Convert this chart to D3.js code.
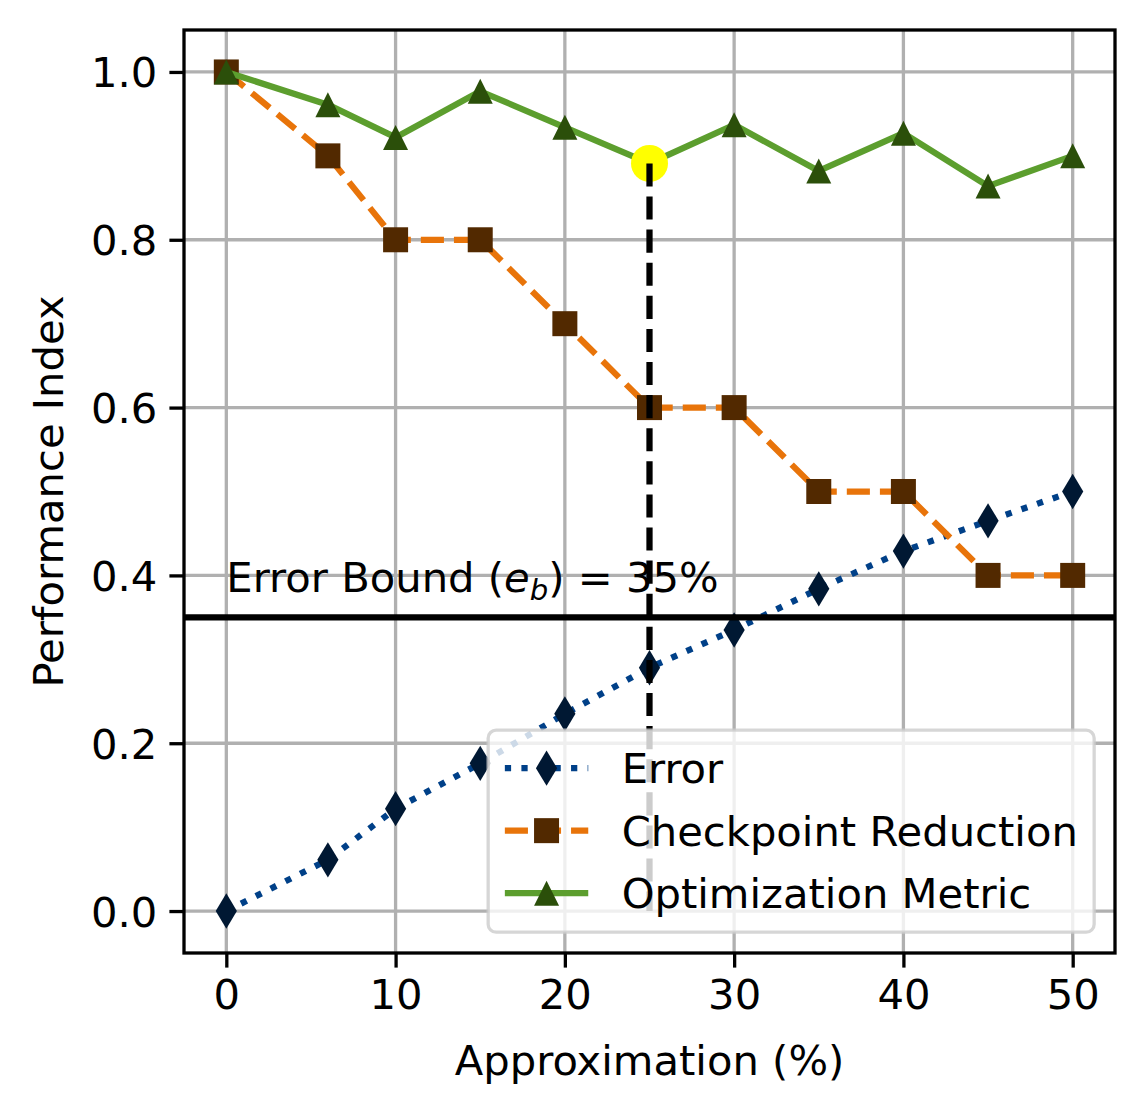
<!DOCTYPE html>
<html>
<head>
    <title></title>
    <meta charset="utf-8">
    <style>
        body { margin: 0; background: #fff; }
        text { font-family: 'DejaVu Sans'; }
    </style>
</head>
<body>
<script src="https://d3js.org/d3.v7.min.js"></script>
<script>
    // data
    var approx = [0, 6, 10, 15, 20, 25, 30, 35, 40, 45, 50];
    var errorVals = [0.0, 0.061, 0.122, 0.176, 0.235, 0.29, 0.335, 0.384, 0.429, 0.465, 0.5];
    var checkpointVals = [1.0, 0.9, 0.8, 0.8, 0.7, 0.6, 0.6, 0.5, 0.5, 0.4, 0.4];
    var optimVals = [1.0, 0.961, 0.922, 0.977, 0.934, 0.891, 0.937, 0.882, 0.927, 0.864, 0.9];
    var xTicks = [0, 10, 20, 30, 40, 50];
    var yTicks = [0.0, 0.2, 0.4, 0.6, 0.8, 1.0];
    var errorBound = 0.35;
    var chosenIdx = 5;

    var W = 1144, H = 1113;
    var m = {left: 184, right: 1115, top: 30, bottom: 953};
    var fs = 41.7; // 10pt at 300dpi
    var lw = 6.25;

    var svg = d3.select('body').append('svg')
        .attr('width', W)
        .attr('height', H);

    var x = d3.scaleLinear().domain([-2.5, 52.5]).range([m.left, m.right]);
    var y = d3.scaleLinear().domain([-0.05, 1.05]).range([m.bottom, m.top]);

    var series = [
        {name: 'Error', vals: errorVals, line: '#004088', mark: '#001833', dash: '6.25,10.3', shape: 'thin'},
        {name: 'Checkpoint Reduction', vals: checkpointVals, line: '#e8740a', mark: '#522900', dash: '23.1,10', shape: 'square'},
        {name: 'Optimization Metric', vals: optimVals, line: '#5c9e2e', mark: '#2b4f0a', dash: null, shape: 'tri'}
    ];

    var clip = svg.append('defs').append('clipPath').attr('id', 'plot')
        .append('rect')
        .attr('x', m.left).attr('y', m.top)
        .attr('width', m.right - m.left).attr('height', m.bottom - m.top);

    // grid
    var grid = svg.append('g');
    grid.selectAll('.gx').data(xTicks).enter().append('line')
        .attr('x1', x).attr('x2', x)
        .attr('y1', m.top).attr('y2', m.bottom)
        .attr('stroke', '#b0b0b0').attr('stroke-width', 3.3);
    grid.selectAll('.gy').data(yTicks).enter().append('line')
        .attr('y1', y).attr('y2', y)
        .attr('x1', m.left).attr('x2', m.right)
        .attr('stroke', '#b0b0b0').attr('stroke-width', 3.3);

    function markerPath(shape) {
        var s = 25;
        if (shape === 'square') {
            return 'M' + (-s / 2) + ',' + (-s / 2) + 'h' + s + 'v' + s + 'h' + (-s) + 'Z';
        }
        if (shape === 'tri') {
            return 'M0,' + (-s / 2) + 'L' + (s / 2) + ',' + (s / 2) + 'L' + (-s / 2) + ',' + (s / 2) + 'Z';
        }
        var h = s * Math.SQRT2 / 2, w = h * 0.6;
        return 'M0,' + (-h) + 'L' + w + ',0L0,' + h + 'L' + (-w) + ',0Z';
    }

    var line = d3.line()
        .x(function (d, i) { return x(approx[i]); })
        .y(function (d) { return y(d); });

    var plot = svg.append('g').attr('clip-path', 'url(#plot)');

    series.forEach(function (s) {
        var g = plot.append('g');
        g.append('path')
            .attr('d', line(s.vals))
            .attr('fill', 'none')
            .attr('stroke', s.line)
            .attr('stroke-width', lw)
            .attr('stroke-dasharray', s.dash)
            .attr('stroke-linejoin', 'round');
        g.selectAll('path.mk').data(s.vals).enter().append('path')
            .attr('class', 'mk')
            .attr('d', markerPath(s.shape))
            .attr('transform', function (d, i) {
                return 'translate(' + x(approx[i]) + ',' + y(d) + ')';
            })
            .attr('fill', s.mark);
    });

    // error bound
    plot.append('line')
        .attr('x1', m.left).attr('x2', m.right)
        .attr('y1', y(errorBound)).attr('y2', y(errorBound))
        .attr('stroke', '#000').attr('stroke-width', lw);

    var lbl = svg.append('text')
        .attr('x', x(0))
        .attr('y', y(errorBound + 0.03))
        .attr('font-size', fs)
        .attr('fill', '#000');
    lbl.append('tspan').text('Error Bound (');
    lbl.append('tspan').attr('font-style', 'italic').text('e');
    lbl.append('tspan').attr('font-style', 'italic').attr('font-size', fs * 0.7).attr('dy', 8).text('b');
    lbl.append('tspan').attr('dy', -8).text(') = 35%');

    // chosen point
    plot.append('circle')
        .attr('cx', x(approx[chosenIdx]))
        .attr('cy', y(optimVals[chosenIdx]))
        .attr('r', 18.5)
        .attr('fill', '#ffff00');

    plot.append('line')
        .attr('x1', x(approx[chosenIdx])).attr('x2', x(approx[chosenIdx]))
        .attr('y1', y(optimVals[chosenIdx])).attr('y2', y(0))
        .attr('stroke', '#000').attr('stroke-width', lw)
        .attr('stroke-dasharray', '23.1,10');

    // axes
    var xAxis = svg.append('g')
        .attr('transform', 'translate(0,' + m.bottom + ')')
        .call(d3.axisBottom(x).tickValues(xTicks).tickFormat(d3.format('d')).tickSize(14.6).tickPadding(12).tickSizeOuter(0));
    var yAxis = svg.append('g')
        .attr('transform', 'translate(' + m.left + ',0)')
        .call(d3.axisLeft(y).tickValues(yTicks).tickFormat(d3.format('.1f')).tickSize(14.6).tickPadding(12).tickSizeOuter(0));
    [xAxis, yAxis].forEach(function (a) {
        a.select('.domain').remove();
        a.selectAll('.tick line').attr('stroke', '#000').attr('stroke-width', 3.3);
        a.selectAll('.tick text').attr('font-size', fs).attr('fill', '#000').attr('font-family', 'DejaVu Sans');
    });
    yAxis.selectAll('.tick text').attr('dy', '0.36em');

    svg.append('rect')
        .attr('x', m.left).attr('y', m.top)
        .attr('width', m.right - m.left).attr('height', m.bottom - m.top)
        .attr('fill', 'none').attr('stroke', '#000').attr('stroke-width', 3.3);

    svg.append('text')
        .attr('x', (m.left + m.right) / 2)
        .attr('y', 1075)
        .attr('text-anchor', 'middle')
        .attr('font-size', fs)
        .text('Approximation (%)');

    svg.append('text')
        .attr('transform', 'translate(63,' + (m.top + m.bottom) / 2 + ') rotate(-90)')
        .attr('text-anchor', 'middle')
        .attr('font-size', fs)
        .text('Performance Index');

    // legend, lower right
    var pad = fs * 0.5;
    var lgW = 606, lgH = 202;
    var lgX = m.right - pad - lgW, lgY = m.bottom - pad - lgH;
    var legend = svg.append('g').attr('transform', 'translate(' + lgX + ',' + lgY + ')');
    legend.append('rect')
        .attr('width', lgW).attr('height', lgH)
        .attr('rx', 8).attr('ry', 8)
        .attr('fill', '#fff').attr('fill-opacity', 0.8)
        .attr('stroke', '#cccccc').attr('stroke-opacity', 0.8).attr('stroke-width', 3.3);

    var rows = legend.selectAll('g.row').data(series).enter().append('g')
        .attr('transform', function (d, i) { return 'translate(0,' + (38 + i * 62.5) + ')'; });
    rows.append('line')
        .attr('x1', 16.7).attr('x2', 16.7 + 83.4)
        .attr('stroke', function (d) { return d.line; })
        .attr('stroke-width', lw)
        .attr('stroke-dasharray', function (d) { return d.dash; });
    rows.append('path')
        .attr('d', function (d) { return markerPath(d.shape); })
        .attr('transform', 'translate(' + (16.7 + 41.7) + ',0)')
        .attr('fill', function (d) { return d.mark; });
    rows.append('text')
        .attr('x', 16.7 + 83.4 + 33.4)
        .attr('dy', '0.36em')
        .attr('font-size', fs)
        .text(function (d) { return d.name; });
</script>
</body>
</html>
